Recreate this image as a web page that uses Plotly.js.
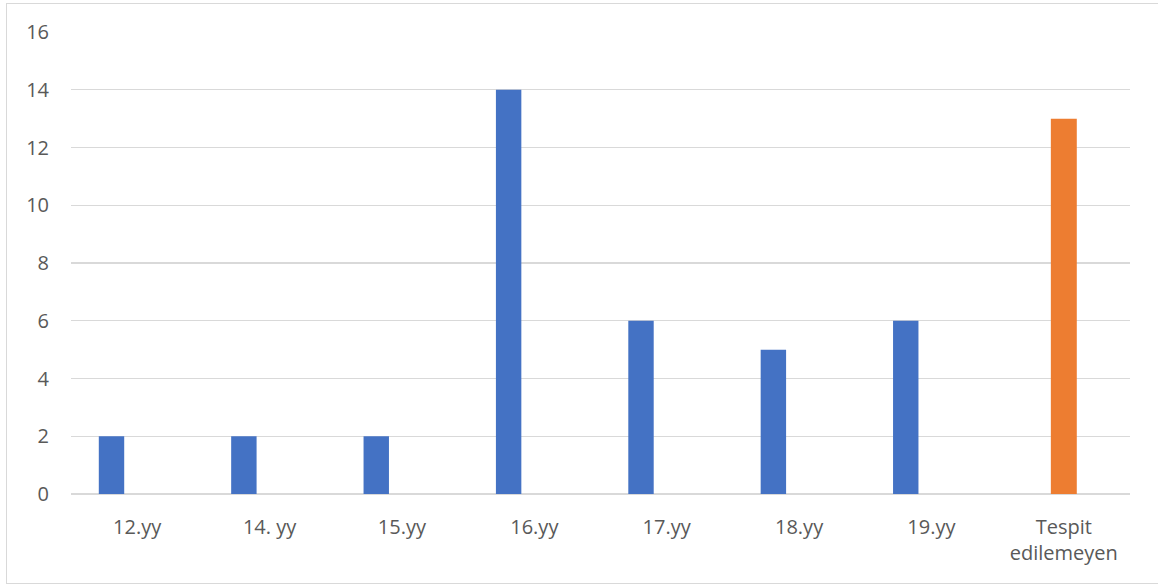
<!DOCTYPE html>
<html>
<head>
<meta charset="utf-8">
<script src="https://cdn.plot.ly/plotly-3.0.1.min.js"></script>
<style>
  html, body { margin: 0; padding: 0; background: #ffffff; }
  #wrap { position: relative; width: 1158px; height: 585px; overflow: hidden; }
  #chart { position: absolute; left: 0; top: 0; width: 1158px; height: 585px; }
  #frame { position: absolute; left: 6px; top: 3px; width: 1170px; height: 579px; border: 1px solid #d9d9d9; pointer-events: none; }
</style>
</head>
<body>
<div id="wrap">
  <div id="chart"></div>
  <div id="frame"></div>
</div>
<script>
const categories = ["12.yy", "14. yy", "15.yy", "16.yy", "17.yy", "18.yy", "19.yy", "Tespit<br>edilemeyen"];
const datedValues = [2, 2, 2, 14, 6, 5, 6, null];
const undatedValues = [null, null, null, null, null, null, null, 13];
const yTicks = [0, 2, 4, 6, 8, 10, 12, 14, 16];

const traces = [
  {
    type: "bar",
    x: categories,
    y: datedValues,
    marker: { color: "#4472C4" },
    width: 0.192,
    offset: -0.29,
    hoverinfo: "x+y",
    showlegend: false
  },
  {
    type: "bar",
    x: categories,
    y: undatedValues,
    marker: { color: "#ED7D31" },
    width: 0.196,
    offset: -0.098,
    hoverinfo: "x+y",
    showlegend: false
  }
];

const layout = {
  width: 1158,
  height: 585,
  margin: { l: 71, r: 28, t: 32, b: 91 },
  paper_bgcolor: "#ffffff",
  plot_bgcolor: "#ffffff",
  barmode: "overlay",
  font: { family: "Open Sans, sans-serif", size: 20, color: "#595959" },
  xaxis: {
    type: "category",
    showgrid: false,
    showline: false,
    zeroline: false,
    ticks: "",
    ticklabelstandoff: 19,
    tickfont: { size: 20, color: "#595959" },
    fixedrange: true
  },
  yaxis: {
    range: [0, 16],
    tickvals: yTicks,
    ticktext: yTicks.map(String),
    showgrid: true,
    gridcolor: "#d9d9d9",
    gridwidth: 1.4,
    zeroline: true,
    zerolinecolor: "#d9d9d9",
    zerolinewidth: 1.4,
    showline: false,
    ticks: "",
    ticklabelstandoff: 21,
    tickfont: { size: 20, color: "#595959" },
    fixedrange: true
  }
};

Plotly.newPlot("chart", traces, layout, { displayModeBar: false, staticPlot: true });
</script>
</body>
</html>
